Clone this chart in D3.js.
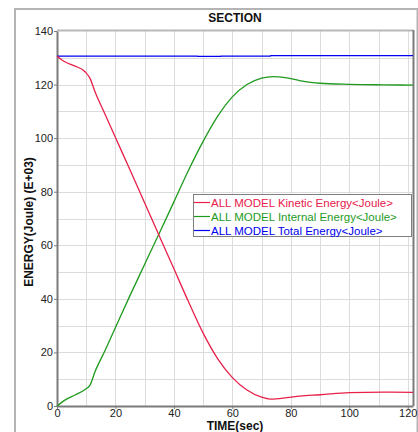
<!DOCTYPE html>
<html><head><meta charset="utf-8">
<script src="https://cdn.jsdelivr.net/npm/d3@7"></script>
<style>body{margin:0;background:#fff;}svg{display:block;font-family:"Liberation Sans",Arial,sans-serif;}</style>
</head><body>
<script>
const title = "SECTION";
const xLabel = "TIME(sec)";
const yLabel = "ENERGY(Joule) (E+03)";
const xTicks = [0,20,40,60,80,100,120];
const yTicks = [0,20,40,60,80,100,120,140];
const seriesNames = ["ALL MODEL Kinetic Energy<Joule>","ALL MODEL Internal Energy<Joule>","ALL MODEL Total Energy<Joule>"];
const kineticT = [0,2.7,6.2,9.6,11.3,13,16.4,20,25,30,35,40,45,50,55,60,65,70,73,78.6,83.1,90,100,111.6,121.8];
const kineticV = [130.6,128.5,126.9,124.8,122.3,117.3,109,100.2,88.1,75.8,63.5,51.2,38.9,27.2,17.6,10.6,6.0,3.3,2.6,3.1,3.7,4.2,5.0,5.2,5.1];
const internalT = [0,2.7,6.2,9.6,11.3,13,16.4,20,25,30,35,40,45,50,55,60,65,70,74,78,83,90,100,111.6,121.8];
const internalV = [0,2.2,4.1,6.2,7.8,12.8,20.6,29.3,41.3,52.9,64.5,76.2,88,98.8,108.2,115.4,120,122.4,123,122.6,121.5,120.5,120.1,119.9,119.8];
const totalT = [0,48,48.1,56,56.1,73,73.1,121.8];
const totalV = [130.65,130.65,130.5,130.5,130.65,130.65,130.8,130.8];
const colors = ["#e8204a","#1e9a1e","#0000ee"];

const W=418,H=432;
const svg=d3.select("body").append("svg").attr("width",W).attr("height",H);
const L=57,R=413,T=31,B=406;
const x=d3.scaleLinear().domain([0,121.8]).range([L,R]);
const y=d3.scaleLinear().domain([0,140]).range([B,T]);

// outer frame
svg.append("rect").attr("x",15).attr("y",9).attr("width",402.5).attr("height",440)
  .attr("fill","#fff").attr("stroke","#b4b4b4").attr("stroke-width",2);

// grid
const g=svg.append("g");
g.selectAll("line.vg").data(d3.range(10,121,10)).enter().append("line")
  .attr("x1",d=>Math.round(x(d))+0.5).attr("x2",d=>Math.round(x(d))+0.5).attr("y1",T).attr("y2",B)
  .attr("stroke","#dcdcdc").attr("stroke-width",1);
g.selectAll("line.hg").data(d3.range(10,140,10)).enter().append("line")
  .attr("y1",d=>Math.round(y(d))+0.5).attr("y2",d=>Math.round(y(d))+0.5).attr("x1",L).attr("x2",R)
  .attr("stroke","#dcdcdc").attr("stroke-width",1);

// plot border
svg.append("line").attr("x1",L).attr("x2",R).attr("y1",T-0.5).attr("y2",T-0.5).attr("stroke","#b8b8b8").attr("stroke-width",2);
svg.append("line").attr("x1",R+0.5).attr("x2",R+0.5).attr("y1",T-1).attr("y2",B).attr("stroke","#7a7a7a").attr("stroke-width",2);

// axes
const xa=svg.append("g").attr("transform",`translate(0,${B})`)
  .call(d3.axisBottom(x).tickValues(xTicks).tickSize(3).tickSizeOuter(0).tickFormat(d3.format("d")));
const ya=svg.append("g").attr("transform",`translate(${L},0)`)
  .call(d3.axisLeft(y).tickValues(yTicks).tickSize(3).tickSizeOuter(0).tickFormat(d3.format("d")));
[xa,ya].forEach(a=>{
  a.select(".domain").attr("stroke","#7a7a7a").attr("stroke-width",2);
  a.selectAll(".tick line").attr("stroke","#7a7a7a");
  a.selectAll(".tick text").attr("fill","#222").attr("font-size",11).attr("font-family","Liberation Sans, Arial, sans-serif");
});
xa.selectAll(".tick text").attr("dy","0.71em").attr("y",3);
ya.selectAll(".tick text").attr("x",-4);

// lines
const mk=(ts,vs)=>ts.map((t,i)=>[t,vs[i]]);
const line=d3.line().x(d=>x(d[0])).y(d=>y(d[1]));
const curved=d3.line().x(d=>x(d[0])).y(d=>y(d[1])).curve(d3.curveMonotoneX);
svg.append("path").datum(mk(totalT,totalV)).attr("d",line).attr("fill","none").attr("stroke",colors[2]).attr("stroke-width",1.3);
svg.append("path").datum(mk(internalT,internalV)).attr("d",curved).attr("fill","none").attr("stroke",colors[1]).attr("stroke-width",1.3);
svg.append("path").datum(mk(kineticT,kineticV)).attr("d",curved).attr("fill","none").attr("stroke",colors[0]).attr("stroke-width",1.3);

// legend
const lg=svg.append("g");
lg.append("rect").attr("x",193.5).attr("y",194.5).attr("width",218).attr("height",42)
  .attr("fill","#fff").attr("stroke","#808080");
seriesNames.forEach((n,i)=>{
  const yy=202+i*14;
  lg.append("line").attr("x1",194).attr("x2",210).attr("y1",yy+0.5).attr("y2",yy+0.5).attr("stroke",colors[i]).attr("stroke-width",1.2);
  lg.append("text").attr("x",211).attr("y",yy+4.5).attr("font-size",11.5).attr("fill",colors[i]).text(n);
});

// titles
svg.append("text").attr("x",235).attr("y",22).attr("text-anchor","middle").attr("font-weight","bold").attr("font-size",12).attr("fill","#111").text(title);
svg.append("text").attr("x",235).attr("y",430).attr("text-anchor","middle").attr("font-weight","bold").attr("font-size",12).attr("fill","#111").text(xLabel);
svg.append("text").attr("transform","translate(33,222) rotate(-90)").attr("text-anchor","middle").attr("font-weight","bold").attr("font-size",12).attr("fill","#111").text(yLabel);
</script>
</body></html>
